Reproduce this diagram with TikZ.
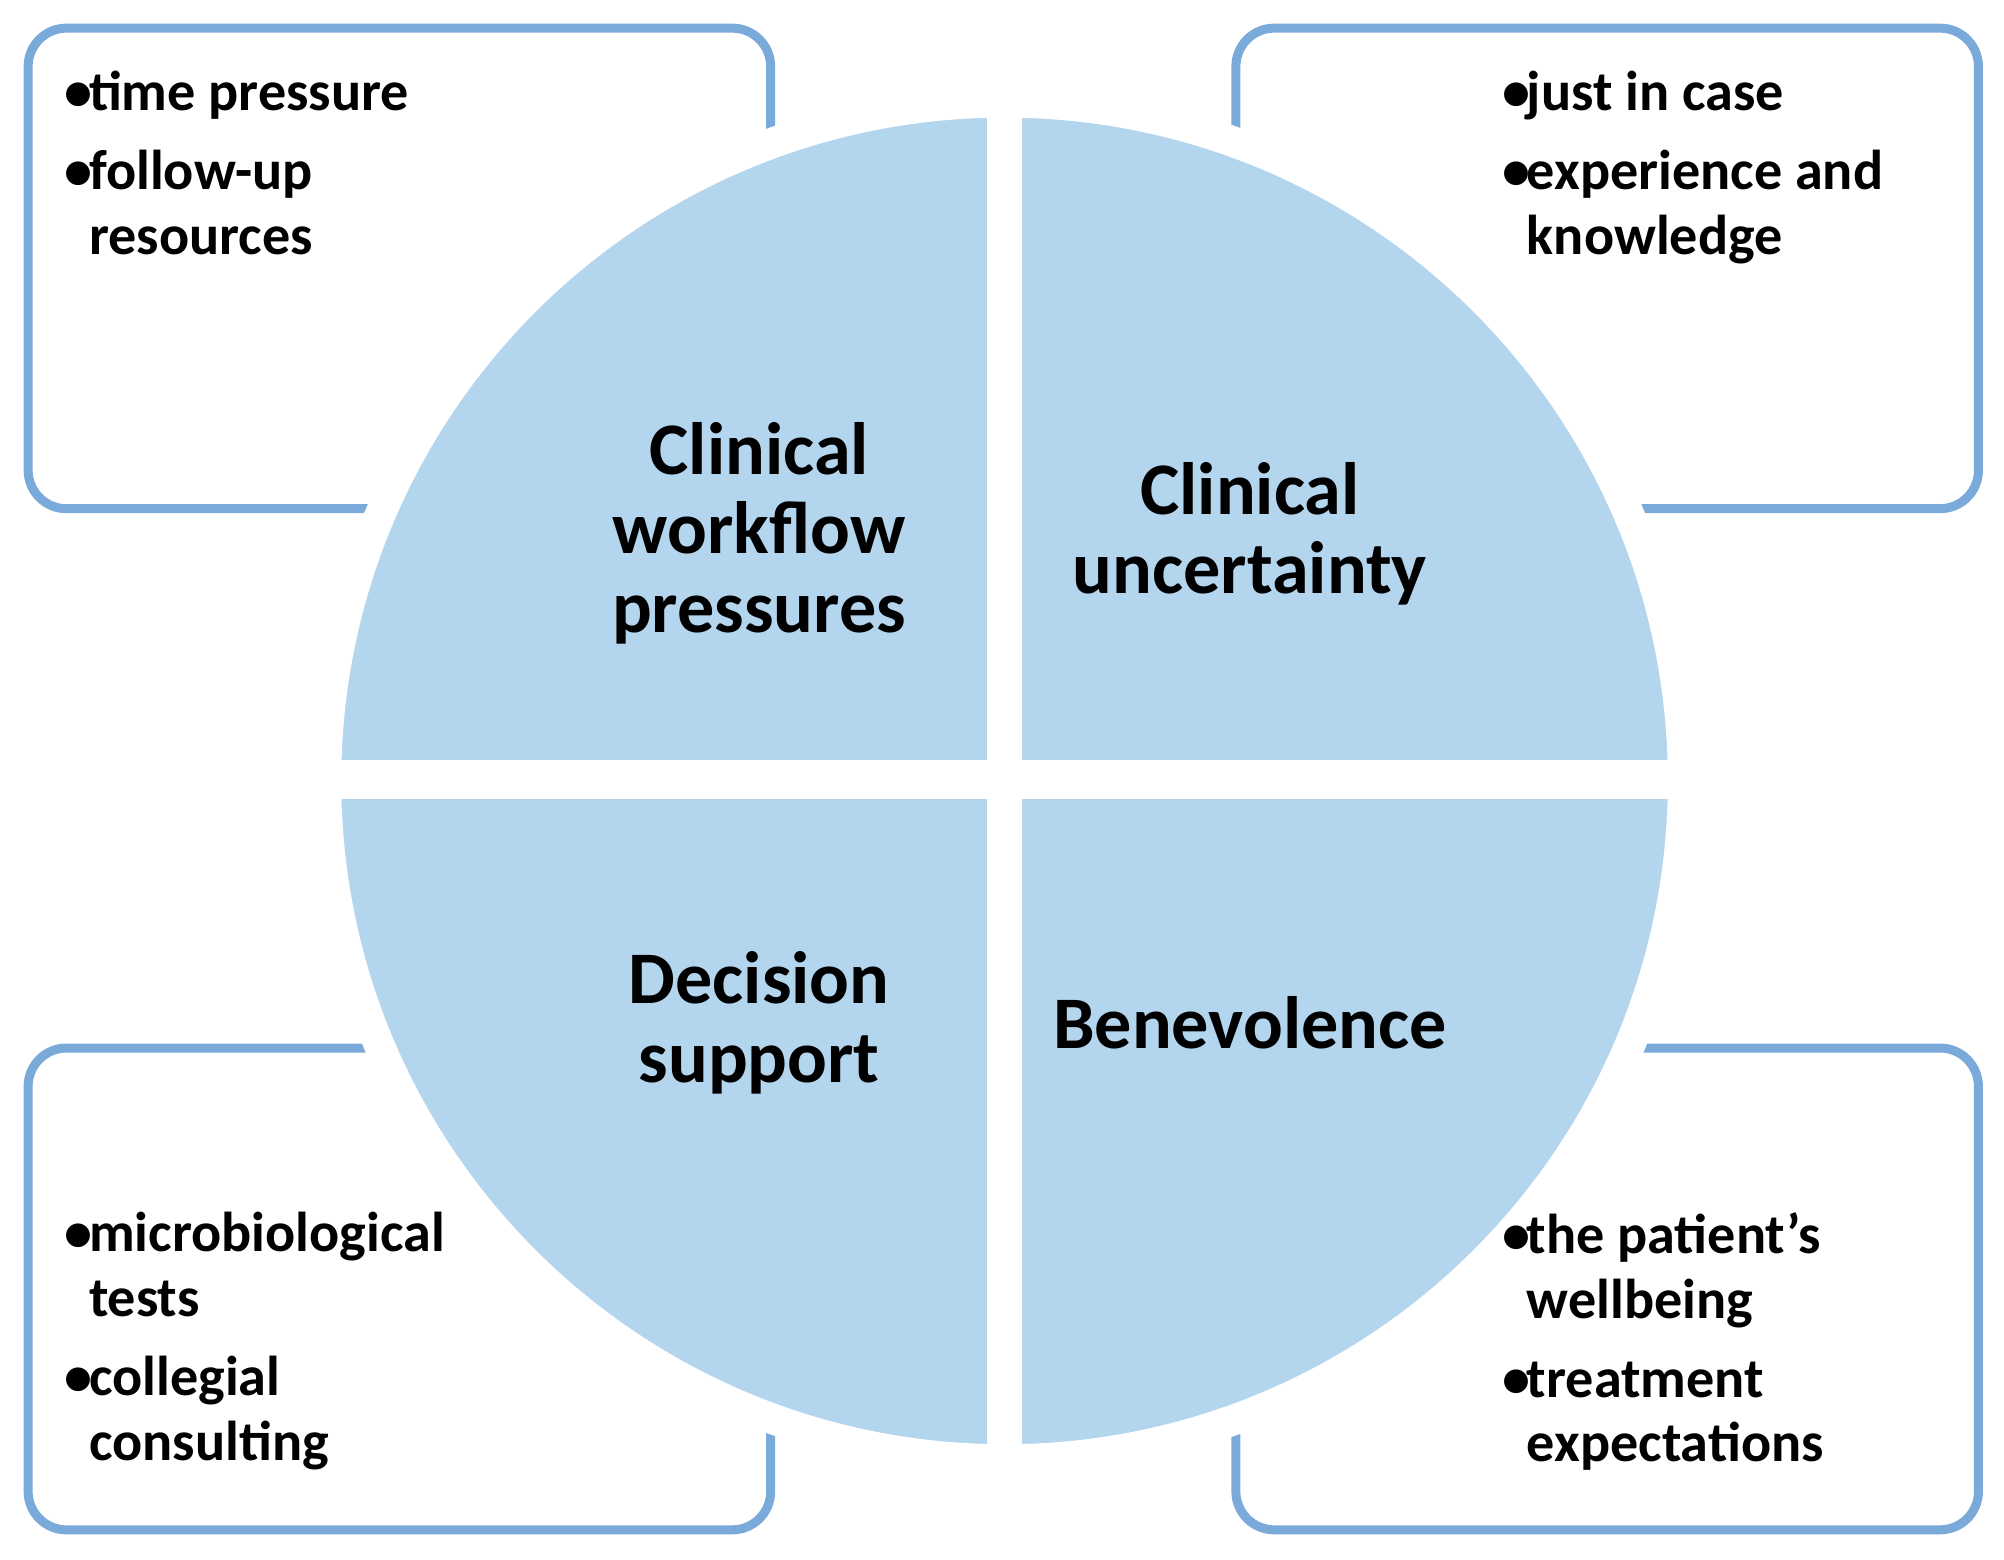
\documentclass[tikz,border=0pt]{standalone}
\usepackage{fontspec}
\setmainfont{Carlito}
\definecolor{quadfill}{HTML}{B4D5EE}
\definecolor{boxline}{HTML}{7AAADA}
\tikzset{
	box/.style = {draw = boxline, line width = 2pt, rounded corners = 3mm, fill = white},
	head/.style = {font = \fontsize{16.5}{17.6}\selectfont\bfseries, align = center, inner sep = 0},
	list/.style = {font = \fontsize{12.5}{14.4}\selectfont\bfseries, align = left, inner sep = 0, anchor = north west}
}
\newcommand{\itm}[1]{\makebox[1.9mm][l]{\textbullet}#1}
\newcommand{\cnt}[1]{\hspace*{1.9mm}#1}
\begin{document}
\begin{tikzpicture}[x = 0.01cm, y = -0.01cm]
		\useasboundingbox (0,0) rectangle (1568,1220);
		
		\draw[box] (22,22) rectangle (603,398);
		\draw[box] (967,22) rectangle (1548,398);
		\draw[box] (22,820) rectangle (603,1197);
		\draw[box] (967,820) rectangle (1548,1197);
		
		\fill[quadfill, draw = white, line width = 2.4mm] (786,611) circle (531);
		\fill[white] (772,60) rectangle (800,1160);
		\fill[white] (240,595) rectangle (1330,625);
		
		\node[head] (flow) at (594,417) {Clinical\\workflow\\pressures};
		\node[head] (unc) at (978,418) {Clinical\\uncertainty};
		\node[head] (dec) at (594,800) {Decision\\support};
		\node[head] (ben) at (978,800) {Benevolence};
		
		\node[list] (l_1) at (50,55) {\itm{time pressure}\\[3.2pt]\itm{follow-up}\\\cnt{resources}};
		\node[list] (l_2) at (1175,55) {\itm{just in case}\\[3.2pt]\itm{experience and}\\\cnt{knowledge}};
		\node[list] (l_3) at (50,948) {\itm{microbiological}\\\cnt{tests}\\[3.2pt]\itm{collegial}\\\cnt{consulting}};
		\node[list] (l_4) at (1175,948) {\itm{the patient\char"0027s}\\\cnt{wellbeing}\\[3.2pt]\itm{treatment}\\\cnt{expectations}};
	\end{tikzpicture}
\end{document}
